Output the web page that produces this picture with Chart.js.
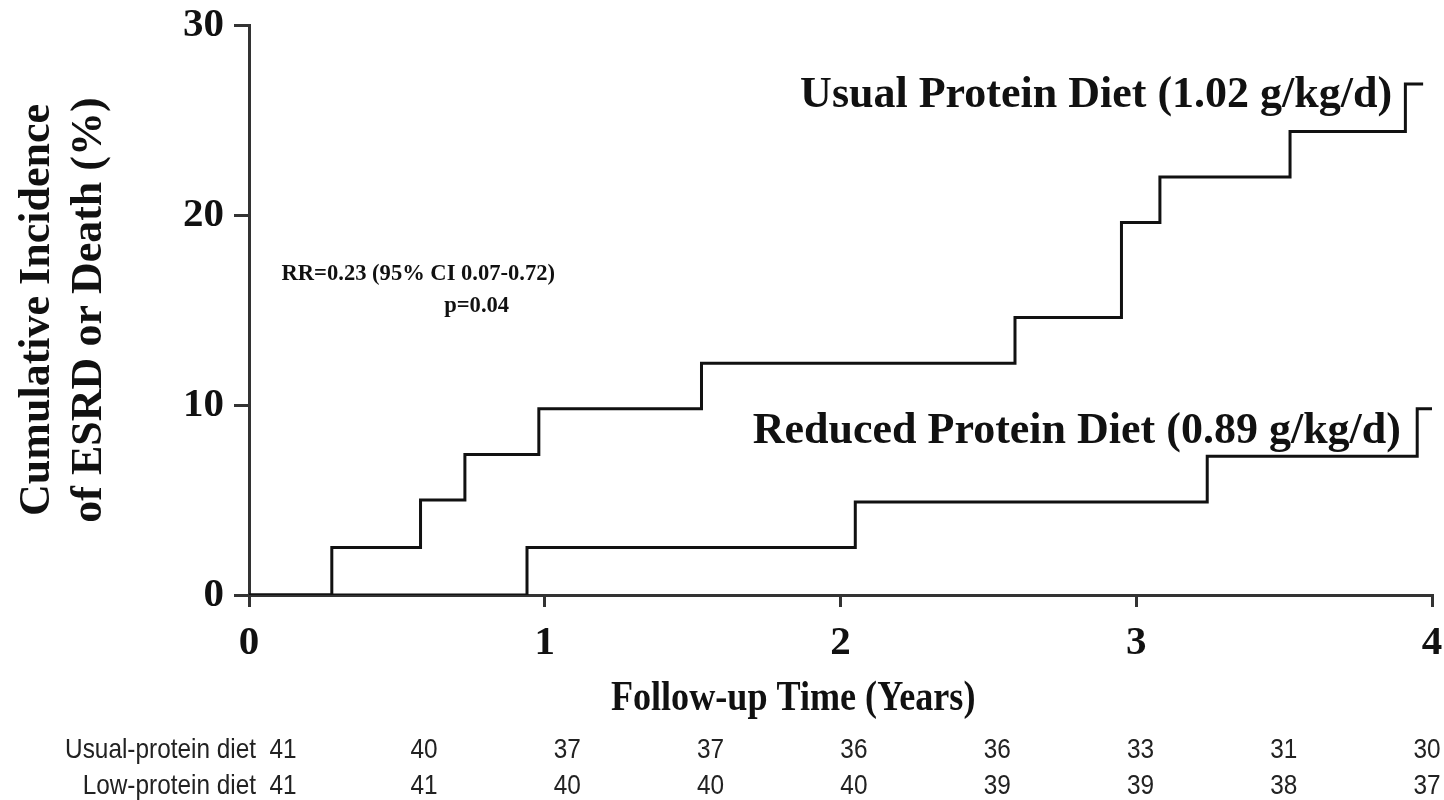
<!DOCTYPE html>
<html>
<head>
<meta charset="utf-8">
<title>Cumulative Incidence of ESRD or Death</title>
<script src="https://cdn.jsdelivr.net/npm/chart.js@4.4.1/dist/chart.umd.min.js"></script>
<style>
    html, body { margin: 0; padding: 0; background: #fff; }
    #wrap { width: 1444px; height: 800px; }
</style>
</head>
<body>
<div id="wrap"><canvas id="myChart" width="1444" height="800"></canvas></div>
<script>
// step times (years) and cumulative incidence (%)
const usualTimes = [0, 0.28, 0.58, 0.73, 0.98, 1.53, 2.59, 2.95, 3.08, 3.52, 3.91, 3.97];
const usualValues = [0, 2.5, 5.0, 7.4, 9.8, 12.2, 14.6, 19.6, 22.0, 24.4, 26.9, 26.9];
const reducedTimes = [0, 0.94, 2.05, 3.24, 3.95, 4.0];
const reducedValues = [0, 2.5, 4.9, 7.3, 9.8, 9.8];

const xTicks = [0, 1, 2, 3, 4];
const yTicks = [0, 10, 20, 30];

// numbers at risk
const riskTimes = [0, 0.5, 1, 1.5, 2, 2.5, 3, 3.5, 4];
const riskUsual = [41, 40, 37, 37, 36, 36, 33, 31, 30];
const riskLow = [41, 41, 40, 40, 40, 39, 39, 38, 37];
const riskLabels = ['Usual-protein diet', 'Low-protein diet'];

const serif = "'Liberation Serif', 'Times New Roman', serif";
const sans = "'Liberation Sans', Arial, sans-serif";
const ink = '#111';
const axisColor = '#333';

// text placed on the plot, in data units
const notes = [
    { text: 'Usual Protein Diet (1.02 g/kg/d)', x: 3.865, y: 25.7, align: 'right', size: 44, sx: 1 },
    { text: 'Reduced Protein Diet (0.89 g/kg/d)', x: 3.895, y: 8.0, align: 'right', size: 44, sx: 1 },
    { text: 'RR=0.23 (95% CI 0.07-0.72)', x: 0.11, y: 16.6, align: 'left', size: 24, sx: 0.94 },
    { text: 'p=0.04', x: 0.66, y: 14.9, align: 'left', size: 24, sx: 0.94 }
];

function toPoints(xs, ys) {
    return xs.map((x, i) => ({ x: x, y: ys[i] }));
}

function squeezeText(c, text, px, py, sx) {
    c.save();
    c.translate(px, py);
    c.scale(sx, 1);
    c.fillText(text, 0, 0);
    c.restore();
}

const textPlugin = {
    id: 'textPlugin',
    afterDraw(chart) {
        const c = chart.ctx;
        const xs = chart.scales.x;
        const ys = chart.scales.y;
        const area = chart.chartArea;
        c.save();
        c.fillStyle = ink;
        c.textBaseline = 'alphabetic';

        notes.forEach(n => {
            c.font = 'bold ' + n.size + 'px ' + serif;
            c.textAlign = n.align;
            squeezeText(c, n.text, xs.getPixelForValue(n.x), ys.getPixelForValue(n.y), n.sx);
        });

        // x axis title (sits left of centre in the original)
        c.font = 'bold 42px ' + serif;
        c.textAlign = 'center';
        squeezeText(c, 'Follow-up Time (Years)', xs.getPixelForValue(1.84), area.bottom + 115, 0.86);

        // numbers at risk
        c.fillStyle = '#222';
        c.font = '28px ' + sans;
        const rows = [riskUsual, riskLow];
        const rowY = [chart.height - 42, chart.height - 6];
        rows.forEach((row, r) => {
            c.textAlign = 'right';
            squeezeText(c, riskLabels[r], 256, rowY[r], 0.87);
            c.textAlign = 'center';
            row.forEach((v, i) => {
                const px = i === 0 ? 283 : 424 + (riskTimes[i] - 0.5) * 286.6;
                squeezeText(c, String(v), px, rowY[r], 0.87);
            });
        });
        c.restore();
    }
};

let chart;
document.addEventListener('DOMContentLoaded', function () {
    Chart.defaults.font.family = serif;
    Chart.defaults.color = ink;
    const ctx = document.getElementById('myChart').getContext('2d');
    chart = new Chart(ctx, {
        type: 'line',
        data: {
            datasets: [{
                label: 'Usual Protein Diet (1.02 g/kg/d)',
                data: toPoints(usualTimes, usualValues),
                stepped: 'before',
                borderColor: ink,
                borderWidth: 3,
                pointRadius: 0,
                fill: false
            }, {
                label: 'Reduced Protein Diet (0.89 g/kg/d)',
                data: toPoints(reducedTimes, reducedValues),
                stepped: 'before',
                borderColor: ink,
                borderWidth: 3,
                pointRadius: 0,
                fill: false
            }]
        },
        options: {
            responsive: false,
            animation: false,
            layout: { padding: { top: 25, right: 12, bottom: 0, left: 0 } },
            plugins: {
                legend: { display: false },
                tooltip: { enabled: false }
            },
            scales: {
                x: {
                    type: 'linear',
                    min: 0,
                    max: 4,
                    afterBuildTicks: s => { s.ticks = xTicks.map(v => ({ value: v })); },
                    afterFit: s => { s.height = 205; s.paddingLeft = 0; s.paddingRight = 0; },
                    grid: { drawOnChartArea: false, tickLength: 12, lineWidth: 3, color: axisColor },
                    border: { display: true, color: axisColor, width: 3 },
                    ticks: { font: { size: 41, weight: 'bold' }, color: ink, padding: 12, maxRotation: 0 }
                },
                y: {
                    min: 0,
                    max: 30,
                    afterBuildTicks: s => { s.ticks = yTicks.map(v => ({ value: v })); },
                    afterFit: s => { s.width = 249; s.paddingTop = 0; s.paddingBottom = 0; },
                    grid: { drawOnChartArea: false, tickLength: 15, lineWidth: 3, color: axisColor },
                    border: { display: true, color: axisColor, width: 3 },
                    ticks: { font: { size: 41, weight: 'bold' }, color: ink, padding: 10 },
                    title: {
                        display: true,
                        text: ['Cumulative Incidence', 'of ESRD or Death (%)'],
                        font: { size: 44, weight: 'bold', lineHeight: 1.18 },
                        color: ink,
                        padding: { top: 12, bottom: 0 }
                    }
                }
            }
        },
        plugins: [textPlugin]
    });
});
</script>
</body>
</html>
